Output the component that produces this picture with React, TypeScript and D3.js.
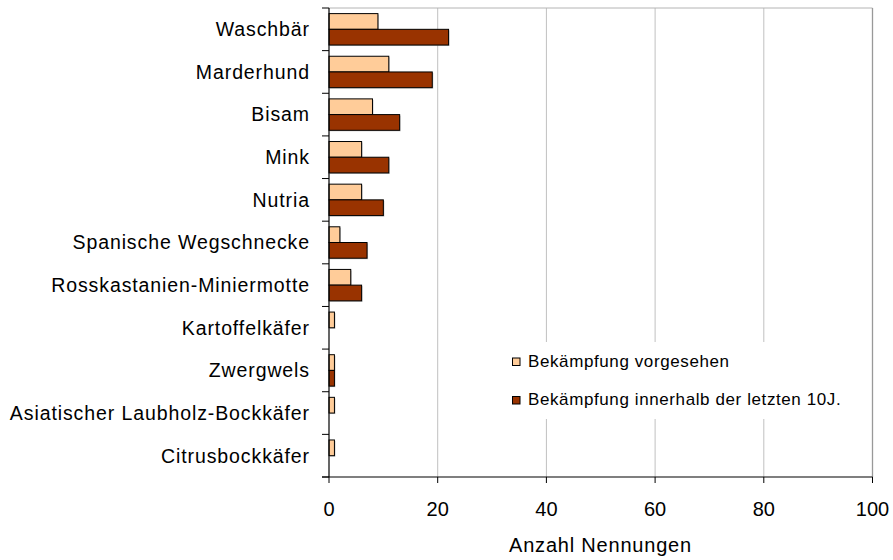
import React from "react";
import * as d3 from "d3";

const categories = [
  "Waschbär",
  "Marderhund",
  "Bisam",
  "Mink",
  "Nutria",
  "Spanische Wegschnecke",
  "Rosskastanien-Miniermotte",
  "Kartoffelkäfer",
  "Zwergwels",
  "Asiatischer Laubholz-Bockkäfer",
  "Citrusbockkäfer",
];
const vorgesehen = [9, 11, 8, 6, 6, 2, 4, 1, 1, 1, 1];
const letzte10J = [22, 19, 13, 11, 10, 7, 6, 0, 1, 0, 0];
const seriesNames = ["Bekämpfung vorgesehen", "Bekämpfung innerhalb der letzten 10J."];
const seriesColors = ["#FFCC99", "#993300"];
const xTicks = [0, 20, 40, 60, 80, 100];
const axisTitle = "Anzahl Nennungen";

export default function App() {
  const W = 893, H = 560;
  const left = 329, right = 872.5, top = 8, bottom = 477;
  const x = d3.scaleLinear().domain([0, 100]).range([left, right]);
  const y = d3.scaleBand<string>().domain(categories).range([top, bottom]);
  const inner = d3.scaleBand<string>().domain(["0", "1"]).range([0, y.bandwidth()]).paddingOuter(0.357);
  const font = "'Liberation Sans', Arial, sans-serif";
  const series = [vorgesehen, letzte10J];
  const step = y.step();
  return (
    <svg width={W} height={H} style={{ position: "absolute", left: 0, top: 0 }} fontFamily={font}>
      <rect x={0} y={0} width={W} height={H} fill="#fff" />
      {xTicks.filter((t) => t > 0 && t < 100).map((t) => (
        <line key={t} x1={x(t)} x2={x(t)} y1={top} y2={bottom} stroke="#c0c0c0" strokeWidth={1} />
      ))}
      <line x1={left} x2={right} y1={top} y2={top} stroke="#b4b4b4" strokeWidth={1} />
      <line x1={right} x2={right} y1={top} y2={bottom} stroke="#999" strokeWidth={1.3} />
      <rect x={505} y={342} width={350} height={77} fill="#fff" />
      {categories.map((c, i) =>
        series.map((s, k) => {
          const v = s[i];
          if (!v) return null;
          const by = (y(c) as number) + (inner(String(k)) as number);
          const bh = inner.bandwidth();
          return (
            <g key={c + k}>
              <rect x={x(0) + 1} y={by + 1} width={x(v) - x(0)} height={bh} fill="#8a8a8a" opacity={0.5} />
              <rect x={x(0)} y={by} width={x(v) - x(0)} height={bh} fill={seriesColors[k]} stroke="#000" strokeWidth={1} />
            </g>
          );
        })
      )}
      <line x1={left} x2={left} y1={top} y2={bottom} stroke="#000" strokeWidth={1.2} />
      {d3.range(categories.length + 1).map((i) => (
        <line key={i} x1={left - 7} x2={left} y1={top + i * step} y2={top + i * step} stroke="#000" strokeWidth={1} />
      ))}
      {categories.map((c) => (
        <text key={c} x={310} y={(y(c) as number) + y.bandwidth() / 2} dy="0.35em" textAnchor="end" fontSize={19.5} letterSpacing={0.9} fill="#000">
          {c}
        </text>
      ))}
      <line x1={left - 7} x2={right} y1={bottom} y2={bottom} stroke="#000" strokeWidth={1.2} />
      {xTicks.map((t) => (
        <g key={t}>
          <line x1={x(t)} x2={x(t)} y1={bottom} y2={bottom + 6} stroke="#000" strokeWidth={1} />
          <text x={x(t)} y={516} textAnchor="middle" fontSize={20} fill="#000">{t}</text>
        </g>
      ))}
      <text x={600.5} y={552} textAnchor="middle" fontSize={20} letterSpacing={0.8} fill="#000">{axisTitle}</text>
      {seriesNames.map((n, k) => (
        <g key={n}>
          <rect x={512.5} y={358 + k * 38.5} width={7.5} height={7.5} fill={seriesColors[k]} stroke="#000" strokeWidth={1} />
          <text x={528} y={366.5 + k * 38.5} fontSize={17} letterSpacing={0.6} fill="#000">{n}</text>
        </g>
      ))}
    </svg>
  );
}
